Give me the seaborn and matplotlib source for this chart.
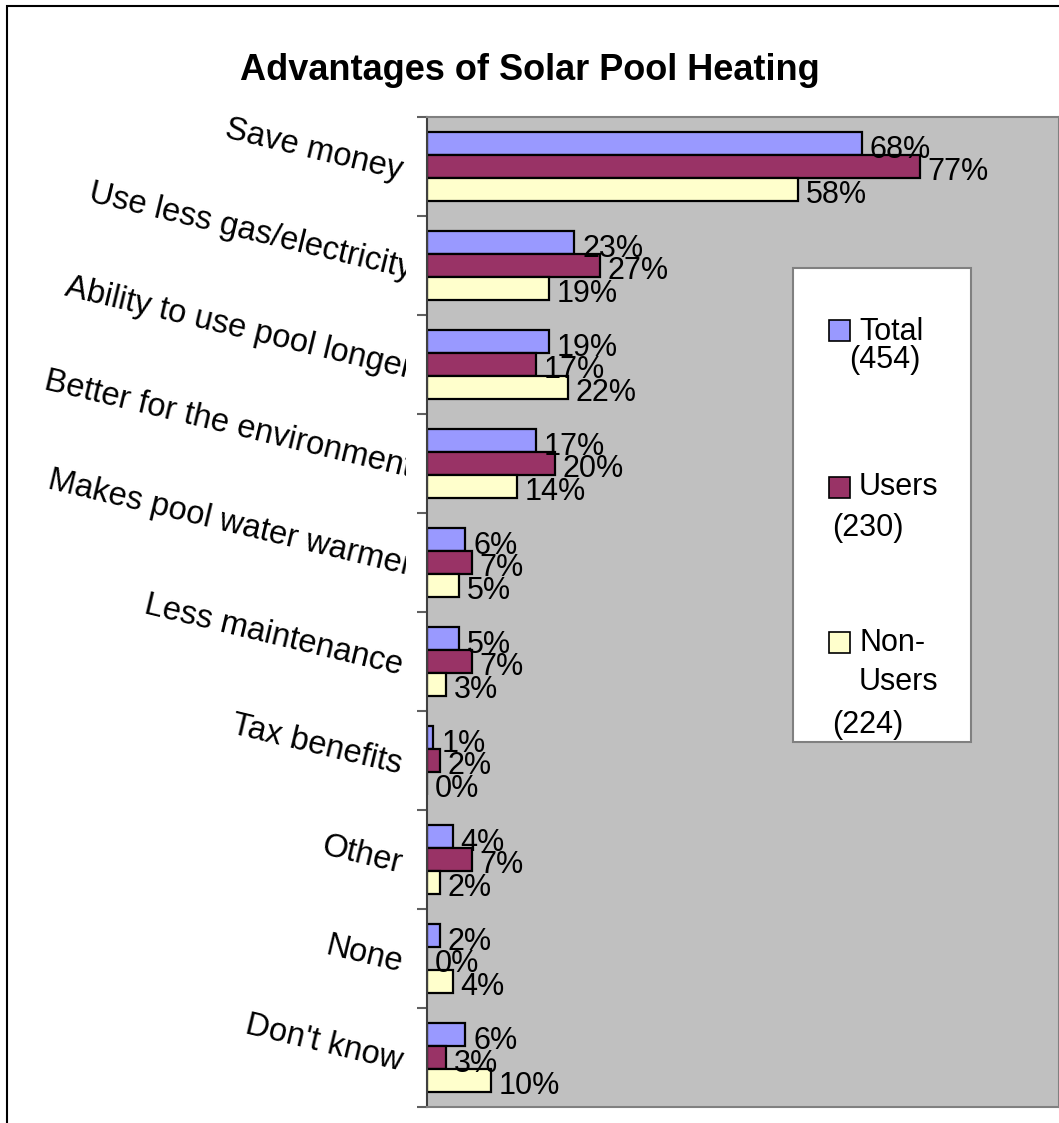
import matplotlib
matplotlib.use("Agg")
import matplotlib.pyplot as plt
from matplotlib.patches import Rectangle
from matplotlib.transforms import Bbox, TransformedBbox, Affine2D
import seaborn as sns
import pandas as pd

categories = ["Save money", "Use less gas/electricity", "Ability to use pool longer",
              "Better for the environment", "Makes pool water warmer", "Less maintenance",
              "Tax benefits", "Other", "None", "Don't know"]
total = [68, 23, 19, 17, 6, 5, 1, 4, 2, 6]
users = [77, 27, 17, 20, 7, 7, 2, 7, 0, 3]
non_users = [58, 19, 22, 14, 5, 3, 0, 2, 4, 10]
series = ["Total", "Users", "Non-Users"]
colors = ["#9999FF", "#993366", "#FFFFCC"]
legend_lines = [["Total", "(454)"], ["Users", "(230)"], ["Non-", "Users", "(224)"]]
title = "Advantages of Solar Pool Heating"

df = pd.DataFrame({
    "category": categories * 3,
    "value": total + users + non_users,
    "series": [s for s in series for _ in categories],
})

sns.set_style("white")
plt.rcParams["font.family"] = ["Liberation Sans", "DejaVu Sans"]
plt.rcParams["text.color"] = "black"
plt.rcParams["ytick.labelcolor"] = "black"

W, H = 1059, 1123
fig = plt.figure(figsize=(W / 100, H / 100), dpi=100)
fig.patch.set_facecolor("white")

def fx(px):
    return px / W

def fy(py):
    return 1 - py / H

ax = fig.add_axes([fx(427), fy(1107), 1 - fx(427), fy(117) - fy(1107)])
sns.barplot(data=df, x="value", y="category", hue="series", order=categories,
            hue_order=series, palette=colors, orient="h", width=0.69,
            edgecolor="black", linewidth=1.6, saturation=1, ax=ax, legend=False,
            errorbar=None)
ax.set_facecolor("#C0C0C0")
ax.set_xlim(0, 98.8)
ax.set_ylim(9.5, -0.5)
ax.set_xlabel("")
ax.set_ylabel("")
ax.set_xticks([])

for side in ["top", "bottom", "right"]:
    ax.spines[side].set_color("#808080")
    ax.spines[side].set_linewidth(1.5)
ax.spines["left"].set_color("#404040")
ax.spines["left"].set_linewidth(1.5)

ax.set_yticks(range(len(categories)))
ax.set_yticklabels(categories)
ax.set_yticks([i - 0.5 for i in range(len(categories) + 1)], minor=True)
ax.tick_params(axis="y", which="major", length=0, pad=16, labelsize=23.5,
               labelcolor="black")
ax.tick_params(axis="y", which="minor", length=7, width=1.5, color="#606060", left=True)

clipbox = TransformedBbox(Bbox([[0, 0], [fx(406), 1]]), fig.transFigure)
for lab in ax.get_yticklabels():
    lab.set_rotation(-13.5)
    lab.set_rotation_mode("anchor")
    lab.set_ha("right")
    lab.set_va("center")
    lab.set_color("black")
    lab.set_clip_on(True)
    lab.set_clip_box(clipbox)
    # long labels overflow the label area and get cut, as in the original
    dx = 7 if len(lab.get_text()) > 20 else -3
    lab.set_transform(lab.get_transform() + Affine2D().translate(dx, -5))

for cont in ax.containers:
    for bar in cont:
        w = bar.get_width()
        ax.annotate(f"{int(round(w))}%", (w, bar.get_y() + bar.get_height() / 2),
                    xytext=(8, -6), textcoords="offset pixels", va="center", ha="left",
                    fontsize=22, color="black", annotation_clip=False)

fig.text(0.5, fy(70), title, ha="center", va="center", fontsize=26,
         fontweight="bold", color="black")

# outer chart border (left and top visible)
fig.add_artist(Rectangle((fx(7), -0.1), 2, fy(6) + 0.1, transform=fig.transFigure,
                         fill=False, edgecolor="black", linewidth=1.5))

# legend box
fig.add_artist(Rectangle((fx(793), fy(742)), fx(971) - fx(793), fy(268) - fy(742),
                         transform=fig.transFigure, facecolor="white",
                         edgecolor="#808080", linewidth=1.5, zorder=5))
sq_tops = [320, 477, 632]
text_rows = [[(859, 332), (849, 360)], [(859, 487), (832, 528)],
             [(859, 643), (859, 682), (832, 725)]]
for col, top, lines, rows in zip(colors, sq_tops, legend_lines, text_rows):
    fig.add_artist(Rectangle((fx(829), fy(top + 21)), fx(21), 21 / H,
                             transform=fig.transFigure, facecolor=col,
                             edgecolor="black", linewidth=1.2, zorder=6))
    for txt, (x, y) in zip(lines, rows):
        fig.text(fx(x), fy(y), txt, ha="left", va="center", fontsize=22,
                 color="black", zorder=7)

fig.savefig("out.png", dpi=100)
